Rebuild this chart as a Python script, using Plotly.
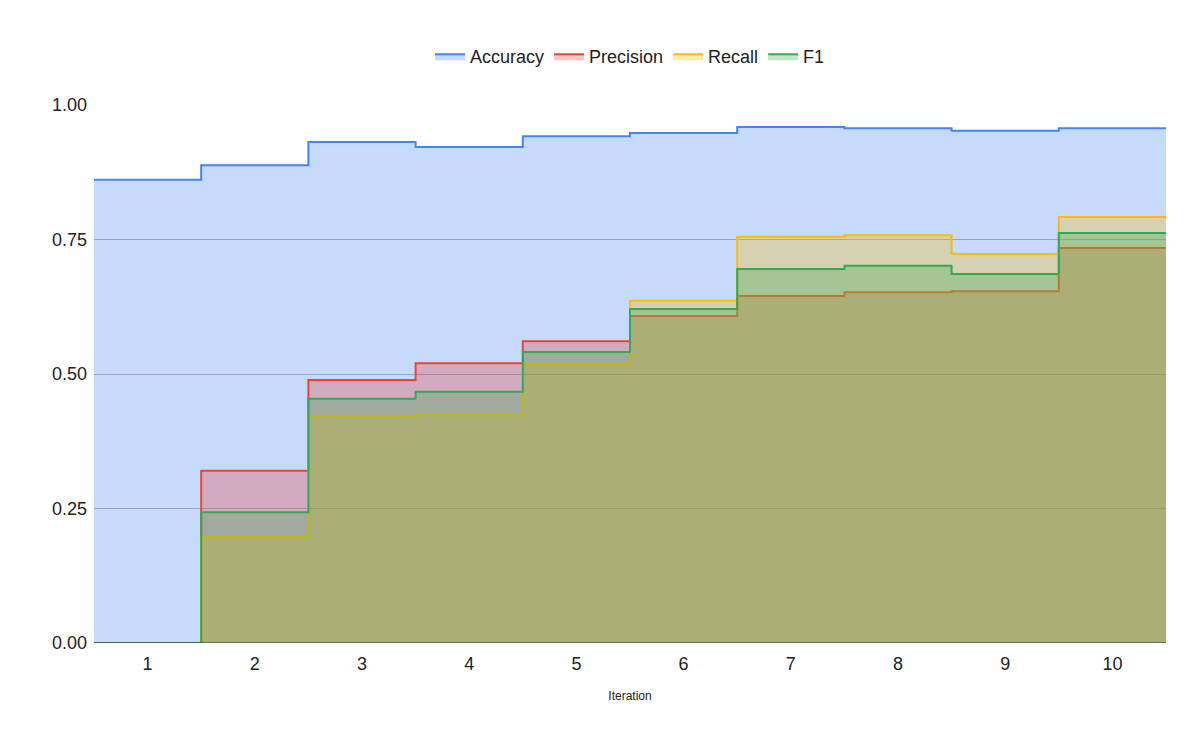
import plotly.graph_objects as go

iterations = [1, 2, 3, 4, 5, 6, 7, 8, 9, 10]
accuracy = [0.861, 0.888, 0.931, 0.922, 0.942, 0.948, 0.959, 0.957, 0.952, 0.957]
precision = [0.0, 0.320, 0.489, 0.520, 0.561, 0.608, 0.645, 0.652, 0.654, 0.734]
recall = [0.0, 0.197, 0.422, 0.424, 0.519, 0.636, 0.755, 0.758, 0.723, 0.792]
f1 = [0.0, 0.243, 0.454, 0.467, 0.541, 0.621, 0.695, 0.701, 0.686, 0.762]

series = [
    ("Accuracy", accuracy, "#4285f4", "rgba(66,133,244,0.3)"),
    ("Precision", precision, "#ea4335", "rgba(234,67,53,0.3)"),
    ("Recall", recall, "#fbbc04", "rgba(251,188,4,0.3)"),
    ("F1", f1, "#34a853", "rgba(52,168,83,0.3)"),
]

# stepped area: each iteration occupies a band of width 1
xs = [i - 0.5 for i in iterations] + [iterations[-1] + 0.5]

fig = go.Figure()
for name, vals, line_col, fill_col in series:
    fig.add_trace(go.Scatter(
        x=xs, y=vals + [vals[-1]], name=name, mode="lines",
        line=dict(color=line_col, width=2, shape="hv"),
        fill="tozeroy", fillcolor=fill_col,
    ))

fig.update_layout(
    width=1195, height=739,
    margin=dict(l=86, r=37, t=97, b=104, autoexpand=False),
    paper_bgcolor="white", plot_bgcolor="white",
    font=dict(family="Arial, Liberation Sans", size=18, color="#222"),
    legend=dict(orientation="h", x=0.5, xanchor="center", y=1.09, yanchor="middle",
                font=dict(size=18)),
    xaxis=dict(range=[0.5, 10.5], tickvals=iterations, showgrid=False, ticklabelstandoff=8,
               title=dict(text="Iteration", font=dict(size=12), standoff=18), zeroline=False),
    yaxis=dict(range=[0, 1.0], tickvals=[0, 0.25, 0.5, 0.75, 1.0], tickformat=".2f",
               gridcolor="#b7b7b7", zeroline=False, showline=False, ticklabelstandoff=6),
)
fig.add_hline(y=0, line_color="#333", line_width=1)
fig.write_html("out.html")
